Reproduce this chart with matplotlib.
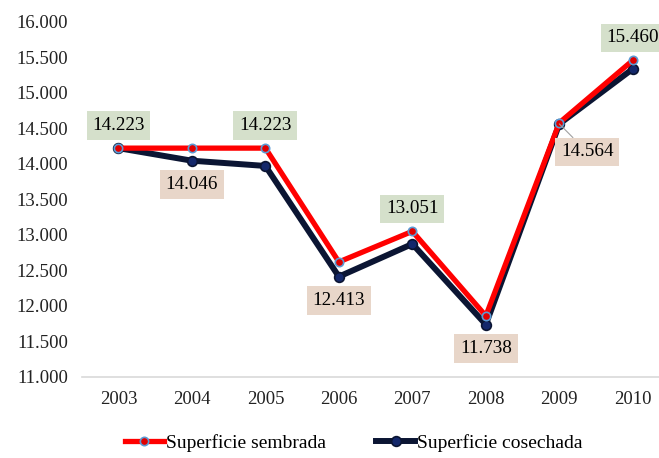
import numpy as np
import matplotlib.pyplot as plt

years = ['2003', '2004', '2005', '2006', '2007', '2008', '2009', '2010']
sembrada = [14223, 14223, 14223, 12620, 13051, 11860, 14580, 15460]
cosechada = [14223, 14046, 13972, 12413, 12873, 11738, 14564, 15340]

# points that get a data label
lab_semb = [0, 2, 4, 7]
lab_cos = [1, 3, 5, 6]

plt.rcParams['font.family'] = ['Liberation Serif', 'DejaVu Serif']

fig = plt.figure(figsize=(6.59, 4.58), dpi=100)
ax = fig.add_axes([0.124, 0.177, 0.892, 0.775])
x = np.arange(len(years))

ax.plot(x, sembrada, color='#ff0000', lw=3.8, marker='o', ms=6,
        mfc='#e00000', mec='#5b9bd5', mew=1.2, label='Superficie sembrada', zorder=3)
ax.plot(x, cosechada, color='#0b1533', lw=4.3, marker='o', ms=7,
        mfc='#14286b', mec='#0b1533', mew=1.2, label='Superficie cosechada', zorder=2)

fmt = lambda v: '{:,.0f}'.format(v).replace(',', '.')

green = '#d5e0cb'
tan = '#e8d6c9'
for i in lab_semb:
    ax.annotate(fmt(sembrada[i]), (x[i], sembrada[i]), xytext=(0, 10),
                textcoords='offset points', ha='center', va='bottom', fontsize=13.8,
                bbox=dict(boxstyle='square,pad=0.3', fc=green, ec='none'),
                annotation_clip=False)
for i in lab_cos:
    if i == 6:
        ax.annotate(fmt(cosechada[i]), (x[i], cosechada[i]), xytext=(20, -14),
                    textcoords='offset points', ha='center', va='top', fontsize=13.8,
                    bbox=dict(boxstyle='square,pad=0.3', fc=tan, ec='none'),
                    arrowprops=dict(arrowstyle='-', color='#a0a0a0', lw=0.8,
                                    shrinkA=0, shrinkB=0))
    else:
        ax.annotate(fmt(cosechada[i]), (x[i], cosechada[i]), xytext=(0, -11),
                    textcoords='offset points', ha='center', va='top', fontsize=13.8,
                    bbox=dict(boxstyle='square,pad=0.3', fc=tan, ec='none'))

ax.set_xlim(-0.5, 7.5)
ax.set_ylim(11000, 16000)
yt = np.arange(11000, 16001, 500)
ax.set_yticks(yt)
ax.set_yticklabels([fmt(v) for v in yt])
ax.set_xticks(x)
ax.set_xticklabels(years)
ax.tick_params(length=0, labelsize=13.5, colors='#222222')
ax.tick_params(axis='x', pad=10)
ax.tick_params(axis='y', pad=10)
for s in ['top', 'right', 'left']:
    ax.spines[s].set_visible(False)
ax.spines['bottom'].set_color('#d9d9d9')
ax.spines['bottom'].set_linewidth(1.2)

fig.legend(loc='lower center', bbox_to_anchor=(0.537, -0.025), ncol=2, frameon=False,
           fontsize=14, handlelength=2.0, handletextpad=0.1, columnspacing=2.6)

fig.savefig('out.png', dpi=100)
